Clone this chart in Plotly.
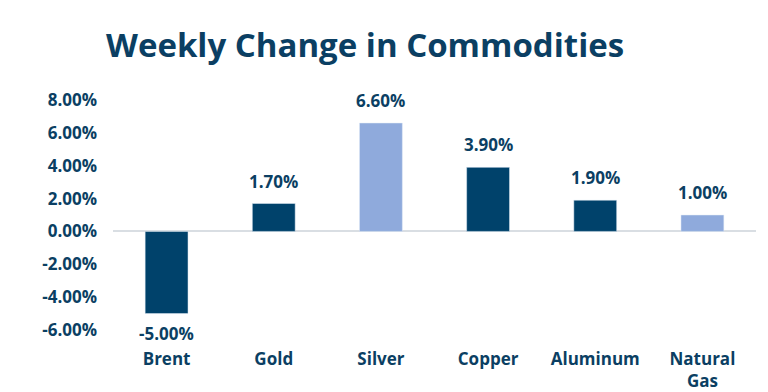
import plotly.graph_objects as go

categories = ["Brent", "Gold", "Silver", "Copper", "Aluminum", "Natural<br>Gas"]
values = [-5.00, 1.70, 6.60, 3.90, 1.90, 1.00]
bar_colors = ["#00426B", "#00426B", "#8FAADC", "#00426B", "#00426B", "#8FAADC"]
tick_vals = [-6, -4, -2, 0, 2, 4, 6, 8]
tick_text = ["-6.00%", "-4.00%", "-2.00%", "0.00%", "2.00%", "4.00%", "6.00%", "8.00%"]

navy = "#0B3F63"
font_family = "'Open Sans', Lato, sans-serif"

fig = go.Figure()
fig.add_trace(go.Bar(
    x=categories, y=values, marker_color=bar_colors, width=0.4,
    hoverinfo="skip",
))

for c, v in zip(categories, values):
    fig.add_annotation(
        x=c, y=v, text=f"{v:.2f}%", showarrow=False,
        yanchor="bottom" if v >= 0 else "top",
        yshift=9 if v >= 0 else -6,
        font=dict(family=font_family, size=17, color=navy, weight="bold"),
    )

fig.update_layout(
    width=768, height=392,
    margin=dict(l=113, r=12, t=100, b=62),
    paper_bgcolor="white", plot_bgcolor="white",
    showlegend=False,
    title=dict(
        text="Weekly Change in Commodities",
        x=106 / 768, xanchor="left", xref="container",
        y=1 - 45 / 392, yanchor="middle", yref="container",
        font=dict(family=font_family, size=33, color=navy, weight="bold"),
    ),
    xaxis=dict(
        showgrid=False, showline=False, zeroline=False,
        ticks="", ticklabelstandoff=17, automargin=False,
        tickfont=dict(family=font_family, size=17, color=navy, weight="bold"),
        fixedrange=True,
    ),
    yaxis=dict(
        range=[-6, 8], tickvals=tick_vals, ticktext=tick_text,
        showgrid=False, showline=False,
        zeroline=True, zerolinecolor="#D9DEE3", zerolinewidth=2,
        ticks="", ticklabelstandoff=15, automargin=False,
        tickfont=dict(family=font_family, size=17, color=navy, weight="bold"),
        fixedrange=True,
    ),
)

fig.write_html("out.html", config={"displayModeBar": False},
               post_script="document.body.style.margin='0';document.body.style.overflow='hidden';")
